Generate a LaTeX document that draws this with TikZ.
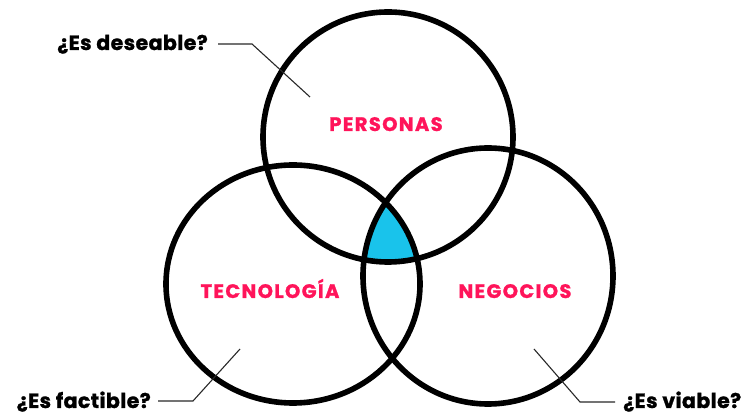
\documentclass[tikz,border=0pt]{standalone}
\usepackage{fontspec}
\setmainfont{Poppins}
\definecolor{pinkred}{RGB}{255,20,90}
\definecolor{venncyan}{RGB}{25,195,235}
\definecolor{leadergray}{RGB}{40,40,40}
\begin{document}
\begin{tikzpicture}[x=1pt,y=1pt,
  ring/.style={draw=black,line width=5.6pt},
  area/.style={font=\bfseries\fontsize{19.5}{21}\selectfont\addfontfeature{LetterSpace=7,FakeBold=1.2},text=pinkred,inner sep=0pt,anchor=base},
  question/.style={font=\bfseries\fontsize{20.5}{22}\selectfont\addfontfeature{LetterSpace=2,FakeBold=1.2},text=black,inner sep=0pt},
  leader/.style={draw=leadergray,line width=1.1pt}]
\useasboundingbox (0,0) rectangle (750,414);
% intersection fill
\begin{scope}
  \clip (388,277) circle [radius=125pt];
  \clip (293,130) circle [x radius=127pt, y radius=119pt];
  \fill[venncyan] (488,138) circle [x radius=125pt, y radius=128pt];
\end{scope}
% circles
\draw[ring] (388,277) circle [radius=125pt];
\draw[ring] (293,130) circle [x radius=127pt, y radius=119pt];
\draw[ring] (488,138) circle [x radius=125pt, y radius=128pt];
% area labels
\node[area] (personas) at (386,283) {PERSONAS};
\node[area] (tecnologia) at (270,116) {TECNOLOGÍA};
\node[area] (negocios) at (515,116) {NEGOCIOS};
% questions
\node[question,anchor=base east] (deseable) at (208,364) {¿Es deseable?};
\node[question,anchor=base east] (factible) at (151,6) {¿Es factible?};
\node[question,anchor=base west] (viable) at (623,6) {¿Es viable?};
% leaders
\coordinate (d1) at (252,370);
\coordinate (d2) at (310,317);
\coordinate (f1) at (193,13);
\coordinate (f2) at (240,65);
\coordinate (v1) at (580,12);
\coordinate (v2) at (534,65);
\draw[leader] (218,370) -- (d1) -- (d2);
\draw[leader] (158,13) -- (f1) -- (f2);
\draw[leader] (615,12) -- (v1) -- (v2);
\end{tikzpicture}
\end{document}
